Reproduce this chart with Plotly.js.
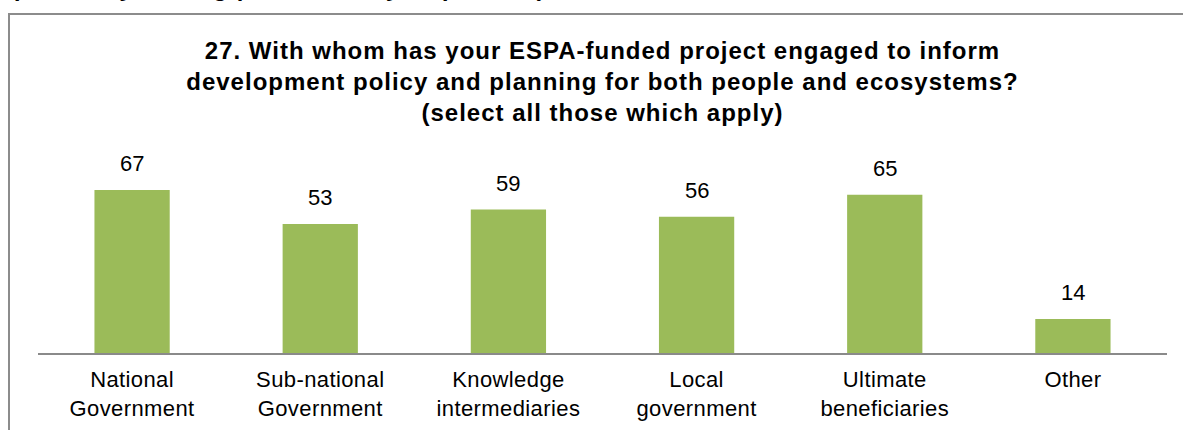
<!DOCTYPE html>
<html>
<head>
<meta charset="utf-8">
<script src="https://cdn.plot.ly/plotly-3.0.1.min.js"></script>
<style>
  html, body { margin: 0; padding: 0; background: #ffffff; }
  #chart { width: 1183px; height: 430px; }
  #chart .gtitle { letter-spacing: 1.0px; }
  #chart .xtick text { letter-spacing: 0.4px; }
</style>
</head>
<body>
<div id="chart"></div>
<script>
// ---- data ----
const categories = [
  "National<br>Government",
  "Sub-national<br>Government",
  "Knowledge<br>intermediaries",
  "Local<br>government",
  "Ultimate<br>beneficiaries",
  "Other"
];
const counts = [67, 53, 59, 56, 65, 14];
const chartTitle = "27. With whom has your ESPA-funded project engaged to inform<br>development policy and planning for both people and ecosystems?<br>(select all those which apply)";
const pageHeading = "Responses by funding (total count by respondent)";

// ---- layout geometry (pixels) ----
const W = 1183, H = 430;
const M = { l: 38, r: 16, t: 140, b: 77 };
const plotW = W - M.l - M.r, plotH = H - M.t - M.b;
const px2x = px => (px - M.l) / plotW;
const py2y = py => (H - M.b - py) / plotH;

const FONT = "Arial, 'Liberation Sans', sans-serif";
const barColor = "#9BBB59";

const trace = {
  type: "bar",
  x: categories,
  y: counts,
  marker: { color: barColor, line: { width: 0 } },
  hoverinfo: "skip"
};

const valueLabels = categories.map((c, i) => ({
  x: c, y: counts[i], xref: "x", yref: "y",
  text: String(counts[i]), showarrow: false,
  yanchor: "middle", yshift: 26,
  font: { family: FONT, size: 22, color: "#000000" }
}));

const heading = {
  xref: "paper", yref: "paper",
  x: px2x(-30), y: py2y(-28), xanchor: "left", yanchor: "top",
  text: "<b><i>" + pageHeading + "</i></b>", showarrow: false,
  font: { family: FONT, size: 24, color: "#000000" }
};

const layout = {
  width: W, height: H,
  margin: M,
  paper_bgcolor: "#ffffff",
  plot_bgcolor: "#ffffff",
  showlegend: false,
  hovermode: false,
  bargap: 0.6,
  title: {
    text: "<b>" + chartTitle + "</b>",
    font: { family: FONT, size: 24, color: "#000000" },
    xref: "paper", x: 0.5, xanchor: "center",
    yref: "container", y: 1 - 59 / H, yanchor: "top"
  },
  xaxis: {
    type: "category",
    showline: true, linecolor: "#8a8a8a", linewidth: 2,
    ticks: "", showgrid: false, zeroline: false,
    tickfont: { family: FONT, size: 22, color: "#000000" },
    ticklabelstandoff: 6
  },
  yaxis: {
    visible: false, range: [0, 87.5], fixedrange: true
  },
  annotations: valueLabels.concat([heading]),
  shapes: [{
    type: "path", xref: "paper", yref: "paper",
    path: "M " + px2x(9) + "," + py2y(440) + " L " + px2x(9) + "," + py2y(14) + " L " + px2x(1200) + "," + py2y(14),
    line: { color: "#8c8c8c", width: 2 }
  }]
};

Plotly.newPlot("chart", [trace], layout, { staticPlot: true, displayModeBar: false });
</script>
</body>
</html>
